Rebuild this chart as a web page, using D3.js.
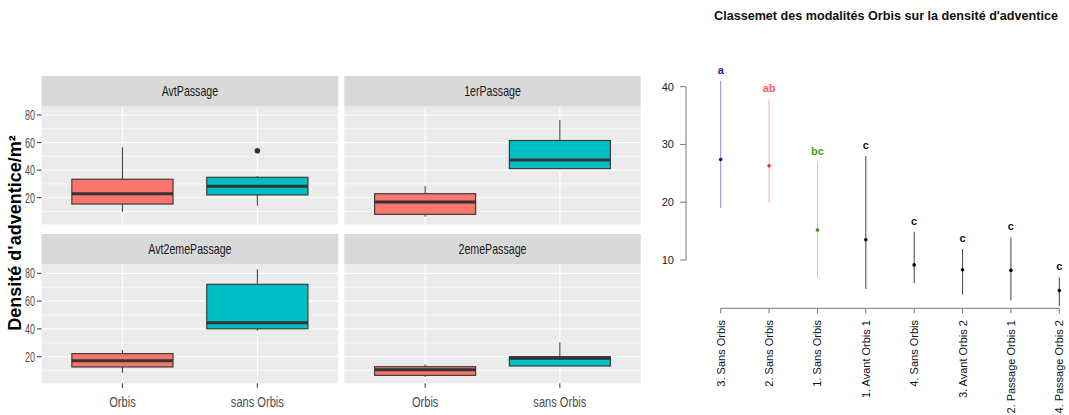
<!DOCTYPE html>
<html><head><meta charset="utf-8">
<script src="https://cdn.jsdelivr.net/npm/d3@7"></script>
<style>body{margin:0;background:#fff}svg{display:block}text{font-family:"Liberation Sans",Arial,sans-serif}</style>
</head><body><svg id="c" width="1069" height="415"></svg>
<script>
// ---------- Left: boxplots by passage ----------
const passages = ["AvtPassage", "1erPassage", "Avt2emePassage", "2emePassage"];
const groups = ["Orbis", "sans Orbis"];
// [whisker low, Q1, median, Q3, whisker high] per passage
const orbisStats = [
  [9.8, 15.4, 22.9, 33.4, 56.6],
  [6.2, 7.9, 16.9, 22.9, 28.5],
  [8.5, 12.6, 17.1, 22.2, 24.8],
  [5.4, 6.6, 10.7, 12.8, 14.5]
];
const sansOrbisStats = [
  [14.2, 22.0, 28.3, 34.8, 35.8],
  [40.6, 41.1, 47.4, 61.5, 76.5],
  [38.7, 40.1, 44.5, 72.1, 82.9],
  [13.3, 13.3, 18.8, 20.0, 30.4]
];
const sansOrbisOutliers = [[54], [], [], []];
const boxTicks = [20, 40, 60, 80];
const boxMinorTicks = [10, 30, 50, 70];
const boxColors = ["#F8766D", "#00BFC4"];
const yTitle = "Densité d'adventice/m²";

// ---------- Right: ranking ----------
const rankTitle = "Classemet des modalités Orbis sur la densité d'adventice";
const rankCategories = ["3. Sans Orbis", "2. Sans Orbis", "1. Sans Orbis", "1. Avant Orbis 1", "4. Sans Orbis", "3. Avant Orbis 2", "2. Passage Orbis 1", "4. Passage Orbis 2"];
const rankMeans = [27.4, 26.3, 15.2, 13.5, 9.15, 8.3, 8.2, 4.7];
const rankUpper = [41.0, 37.8, 27.0, 28.0, 14.9, 11.9, 13.9, 7.0];
const rankLower = [19.0, 19.9, 7.0, 5.0, 6.0, 4.0, 3.0, 2.05];
const rankGroups = ["a", "ab", "bc", "c", "c", "c", "c", "c"];
const rankTicks = [10, 20, 30, 40];
const groupTextColor = {a: "#1c1c9c", ab: "#ff5a5a", bc: "#4a9a1a", c: "#111111"};
const groupLineColor = {a: "#8a8ad8", ab: "#ffaaaa", bc: "#b4d49c", c: "#444444"};
const groupPointColor = {a: "#12129a", ab: "#ee2a2a", bc: "#3a8a0a", c: "#000000"};

const svg = d3.select("#c");

// layout
const cols = [[41.5, 338.3], [344.3, 640.7]];
const rows = [
  {strip: [76, 106.7], panel: [106.7, 224.3], y20: 197.7, y80: 115},
  {strip: [234, 264.3], panel: [264.3, 383.3], y20: 356.7, y80: 273.3}
];

function stext(g, x, y, txt, size, sx, anchor, color, weight) {
  return g.append("text")
    .attr("transform", `translate(${x},${y}) scale(${sx},1)`)
    .attr("text-anchor", anchor).attr("font-size", size)
    .attr("fill", color).attr("font-weight", weight || "normal")
    .text(txt);
}

passages.forEach((p, i) => {
  const r = rows[Math.floor(i / 2)], c = cols[i % 2];
  const g = svg.append("g");
  const y = d3.scaleLinear().domain([20, 80]).range([r.y20, r.y80]);
  const x = d3.scalePoint().domain(groups).range(c).padding(0.6);
  const bw = x.step() * 0.75;
  // strip
  g.append("rect").attr("x", c[0]).attr("y", r.strip[0]).attr("width", c[1] - c[0]).attr("height", r.strip[1] - r.strip[0]).attr("fill", "#D9D9D9");
  stext(g, (c[0] + c[1]) / 2, (r.strip[0] + r.strip[1]) / 2 + 5, p, 14, 0.76, "middle", "#1A1A1A");
  // panel
  g.append("rect").attr("x", c[0]).attr("y", r.panel[0]).attr("width", c[1] - c[0]).attr("height", r.panel[1] - r.panel[0]).attr("fill", "#EBEBEB");
  boxMinorTicks.forEach(t => {
    const yy = y(t);
    if (yy > r.panel[0] && yy < r.panel[1])
      g.append("line").attr("x1", c[0]).attr("x2", c[1]).attr("y1", yy).attr("y2", yy).attr("stroke", "#fff").attr("stroke-width", 0.6);
  });
  boxTicks.forEach(t => {
    g.append("line").attr("x1", c[0]).attr("x2", c[1]).attr("y1", y(t)).attr("y2", y(t)).attr("stroke", "#fff").attr("stroke-width", 1.2);
  });
  groups.forEach(gr => {
    g.append("line").attr("x1", x(gr)).attr("x2", x(gr)).attr("y1", r.panel[0]).attr("y2", r.panel[1]).attr("stroke", "#fff").attr("stroke-width", 1.2);
  });
  // y axis (left column)
  if (i % 2 === 0) {
    boxTicks.forEach(t => {
      g.append("line").attr("x1", c[0] - 4.5).attr("x2", c[0]).attr("y1", y(t)).attr("y2", y(t)).attr("stroke", "#333").attr("stroke-width", 1);
      stext(g, c[0] - 6.5, y(t) + 5, t, 14, 0.64, "end", "#4D4D4D");
    });
  }
  // x axis (bottom row)
  if (i >= 2) {
    groups.forEach(gr => {
      g.append("line").attr("x1", x(gr)).attr("x2", x(gr)).attr("y1", r.panel[1]).attr("y2", r.panel[1] + 4.5).attr("stroke", "#333").attr("stroke-width", 1);
      stext(g, x(gr), r.panel[1] + 23.5, gr, 15, 0.74, "middle", "#4D4D4D");
    });
  }
  // boxes
  [orbisStats[i], sansOrbisStats[i]].forEach((s, k) => {
    const cx = x(groups[k]);
    g.append("line").attr("x1", cx).attr("x2", cx).attr("y1", y(s[0])).attr("y2", y(s[1])).attr("stroke", "#333").attr("stroke-width", 1);
    g.append("line").attr("x1", cx).attr("x2", cx).attr("y1", y(s[3])).attr("y2", y(s[4])).attr("stroke", "#333").attr("stroke-width", 1);
    g.append("rect").attr("x", cx - bw / 2).attr("y", y(s[3])).attr("width", bw).attr("height", y(s[1]) - y(s[3]))
      .attr("fill", boxColors[k]).attr("stroke", "#333").attr("stroke-width", 1.1);
    g.append("line").attr("x1", cx - bw / 2).attr("x2", cx + bw / 2).attr("y1", y(s[2])).attr("y2", y(s[2])).attr("stroke", "#333").attr("stroke-width", 3);
  });
  sansOrbisOutliers[i].forEach(v => {
    g.append("circle").attr("cx", x(groups[1])).attr("cy", y(v)).attr("r", 2.8).attr("fill", "#333");
  });
});
// y title
svg.append("text").attr("transform", "translate(21,233) rotate(-90)").attr("text-anchor", "middle")
  .attr("font-size", 18).attr("font-weight", "bold").attr("fill", "#000").text(yTitle);

// ---------- Right chart ----------
const rg = svg.append("g");
const ry = d3.scaleLinear().domain([10, 40]).range([260, 86.7]);
const rx = d3.scalePoint().domain(rankCategories).range([720.7, 1059.3]);
rg.append("text").attr("x", 886).attr("y", 19.5).attr("text-anchor", "middle").attr("font-size", 12.6)
  .attr("font-weight", "bold").attr("fill", "#111").text(rankTitle);
// y axis
rg.append("line").attr("x1", 686).attr("x2", 686).attr("y1", ry(40)).attr("y2", ry(10)).attr("stroke", "#777");
rankTicks.forEach(t => {
  rg.append("line").attr("x1", 680).attr("x2", 686).attr("y1", ry(t)).attr("y2", ry(t)).attr("stroke", "#777");
  rg.append("text").attr("x", 674).attr("y", ry(t) + 4).attr("text-anchor", "end").attr("font-size", 11).attr("fill", "#222").text(t);
});
// x axis
rg.append("line").attr("x1", rx(rankCategories[0])).attr("x2", rx(rankCategories[rankCategories.length - 1])).attr("y1", 308.3).attr("y2", 308.3).attr("stroke", "#777");
rankCategories.forEach((cat, i) => {
  const cx = rx(cat);
  rg.append("line").attr("x1", cx).attr("x2", cx).attr("y1", 308.3).attr("y2", 313.5).attr("stroke", "#777");
  rg.append("text").attr("transform", `translate(${cx + 4},320) rotate(-90)`).attr("text-anchor", "end")
    .attr("font-size", 11).attr("fill", "#111").text(cat);
  const grp = rankGroups[i];
  rg.append("line").attr("x1", cx).attr("x2", cx).attr("y1", ry(rankUpper[i])).attr("y2", ry(rankLower[i]))
    .attr("stroke", groupLineColor[grp]).attr("stroke-width", 1);
  rg.append("circle").attr("cx", cx).attr("cy", ry(rankMeans[i])).attr("r", 1.8).attr("fill", groupPointColor[grp]);
  rg.append("text").attr("x", cx).attr("y", ry(rankUpper[i]) - 7).attr("text-anchor", "middle").attr("font-size", 11)
    .attr("font-weight", "bold").attr("fill", groupTextColor[grp]).text(grp);
});
</script></body></html>
